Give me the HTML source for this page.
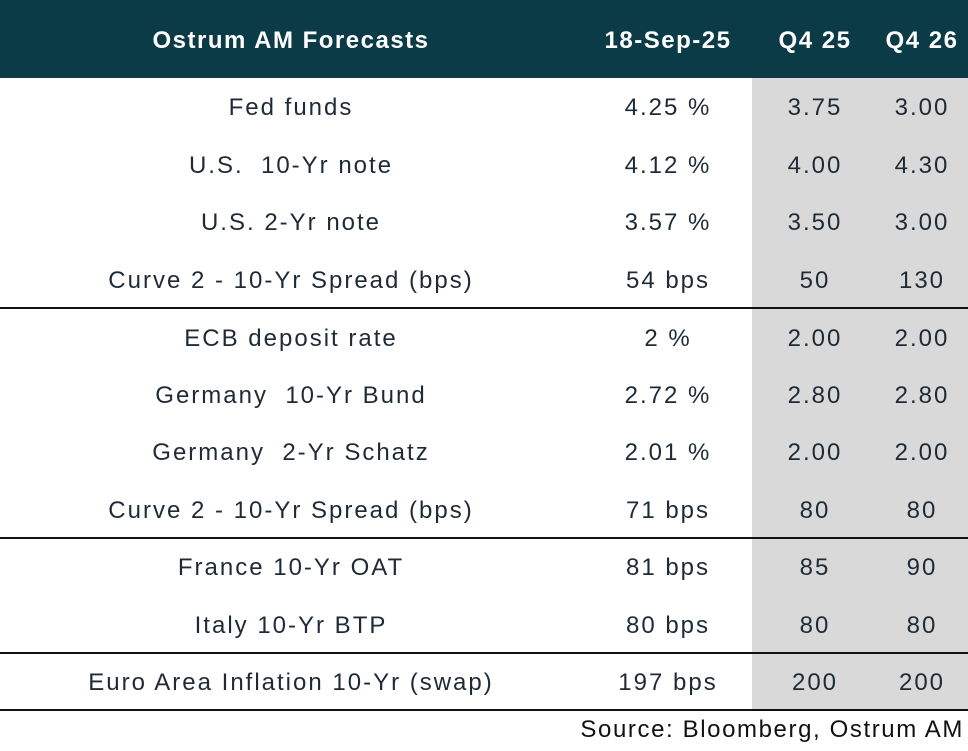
<!DOCTYPE html>
<html><head><meta charset="utf-8"><style>
body{margin:0;width:968px;height:751px;background:#fff;position:relative;overflow:hidden;font-family:"Liberation Sans",sans-serif}
.hdr{position:absolute;left:0;top:0;width:968px;height:78px;background:#0c3b48}
.grey{position:absolute;left:752px;top:78px;width:216px;height:632px;background:#d9d9d9}
.ln{position:absolute;left:0;width:968px;height:2px;background:#111}
.t{position:absolute;transform:translate(-50%,-50%);white-space:nowrap;font-size:24px;color:#1e2b36;letter-spacing:2px}
.h{color:#fff;font-weight:bold;font-size:24px;letter-spacing:1.5px}
</style></head><body>
<div class="hdr"></div><div class="grey"></div>
<div class="ln" style="top:307px"></div>
<div class="ln" style="top:537px"></div>
<div class="ln" style="top:652px"></div>
<div class="ln" style="top:709px"></div>
<div class="t h" style="left:291px;top:41px">Ostrum AM Forecasts</div>
<div class="t h" style="left:668px;top:41px">18-Sep-25</div>
<div class="t h" style="left:815px;top:41px">Q4 25</div>
<div class="t h" style="left:922px;top:41px">Q4 26</div>

<div class="t" style="left:291px;top:108px">Fed funds</div><div class="t" style="left:668px;top:108px">4.25 %</div><div class="t" style="left:815px;top:108px">3.75</div><div class="t" style="left:922px;top:108px">3.00</div>
<div class="t" style="left:291px;top:166px">U.S.&nbsp; 10-Yr note</div><div class="t" style="left:668px;top:166px">4.12 %</div><div class="t" style="left:815px;top:166px">4.00</div><div class="t" style="left:922px;top:166px">4.30</div>
<div class="t" style="left:291px;top:223px">U.S. 2-Yr note</div><div class="t" style="left:668px;top:223px">3.57 %</div><div class="t" style="left:815px;top:223px">3.50</div><div class="t" style="left:922px;top:223px">3.00</div>
<div class="t" style="left:291px;top:281px">Curve 2 - 10-Yr Spread (bps)</div><div class="t" style="left:668px;top:281px">54 bps</div><div class="t" style="left:815px;top:281px">50</div><div class="t" style="left:922px;top:281px">130</div>
<div class="t" style="left:291px;top:339px">ECB deposit rate</div><div class="t" style="left:668px;top:339px">2 %</div><div class="t" style="left:815px;top:339px">2.00</div><div class="t" style="left:922px;top:339px">2.00</div>
<div class="t" style="left:291px;top:396px">Germany&nbsp; 10-Yr Bund</div><div class="t" style="left:668px;top:396px">2.72 %</div><div class="t" style="left:815px;top:396px">2.80</div><div class="t" style="left:922px;top:396px">2.80</div>
<div class="t" style="left:291px;top:453px">Germany&nbsp; 2-Yr Schatz</div><div class="t" style="left:668px;top:453px">2.01 %</div><div class="t" style="left:815px;top:453px">2.00</div><div class="t" style="left:922px;top:453px">2.00</div>
<div class="t" style="left:291px;top:511px">Curve 2 - 10-Yr Spread (bps)</div><div class="t" style="left:668px;top:511px">71 bps</div><div class="t" style="left:815px;top:511px">80</div><div class="t" style="left:922px;top:511px">80</div>
<div class="t" style="left:291px;top:568px">France 10-Yr OAT</div><div class="t" style="left:668px;top:568px">81 bps</div><div class="t" style="left:815px;top:568px">85</div><div class="t" style="left:922px;top:568px">90</div>
<div class="t" style="left:291px;top:626px">Italy 10-Yr BTP</div><div class="t" style="left:668px;top:626px">80 bps</div><div class="t" style="left:815px;top:626px">80</div><div class="t" style="left:922px;top:626px">80</div>
<div class="t" style="left:291px;top:683px">Euro Area Inflation 10-Yr (swap)</div><div class="t" style="left:668px;top:683px">197 bps</div><div class="t" style="left:815px;top:683px">200</div><div class="t" style="left:922px;top:683px">200</div>
<div style="position:absolute;right:4px;top:716px;font-size:24px;color:#111;white-space:nowrap;letter-spacing:1.6px">Source: Bloomberg, Ostrum AM</div>
</body></html>
